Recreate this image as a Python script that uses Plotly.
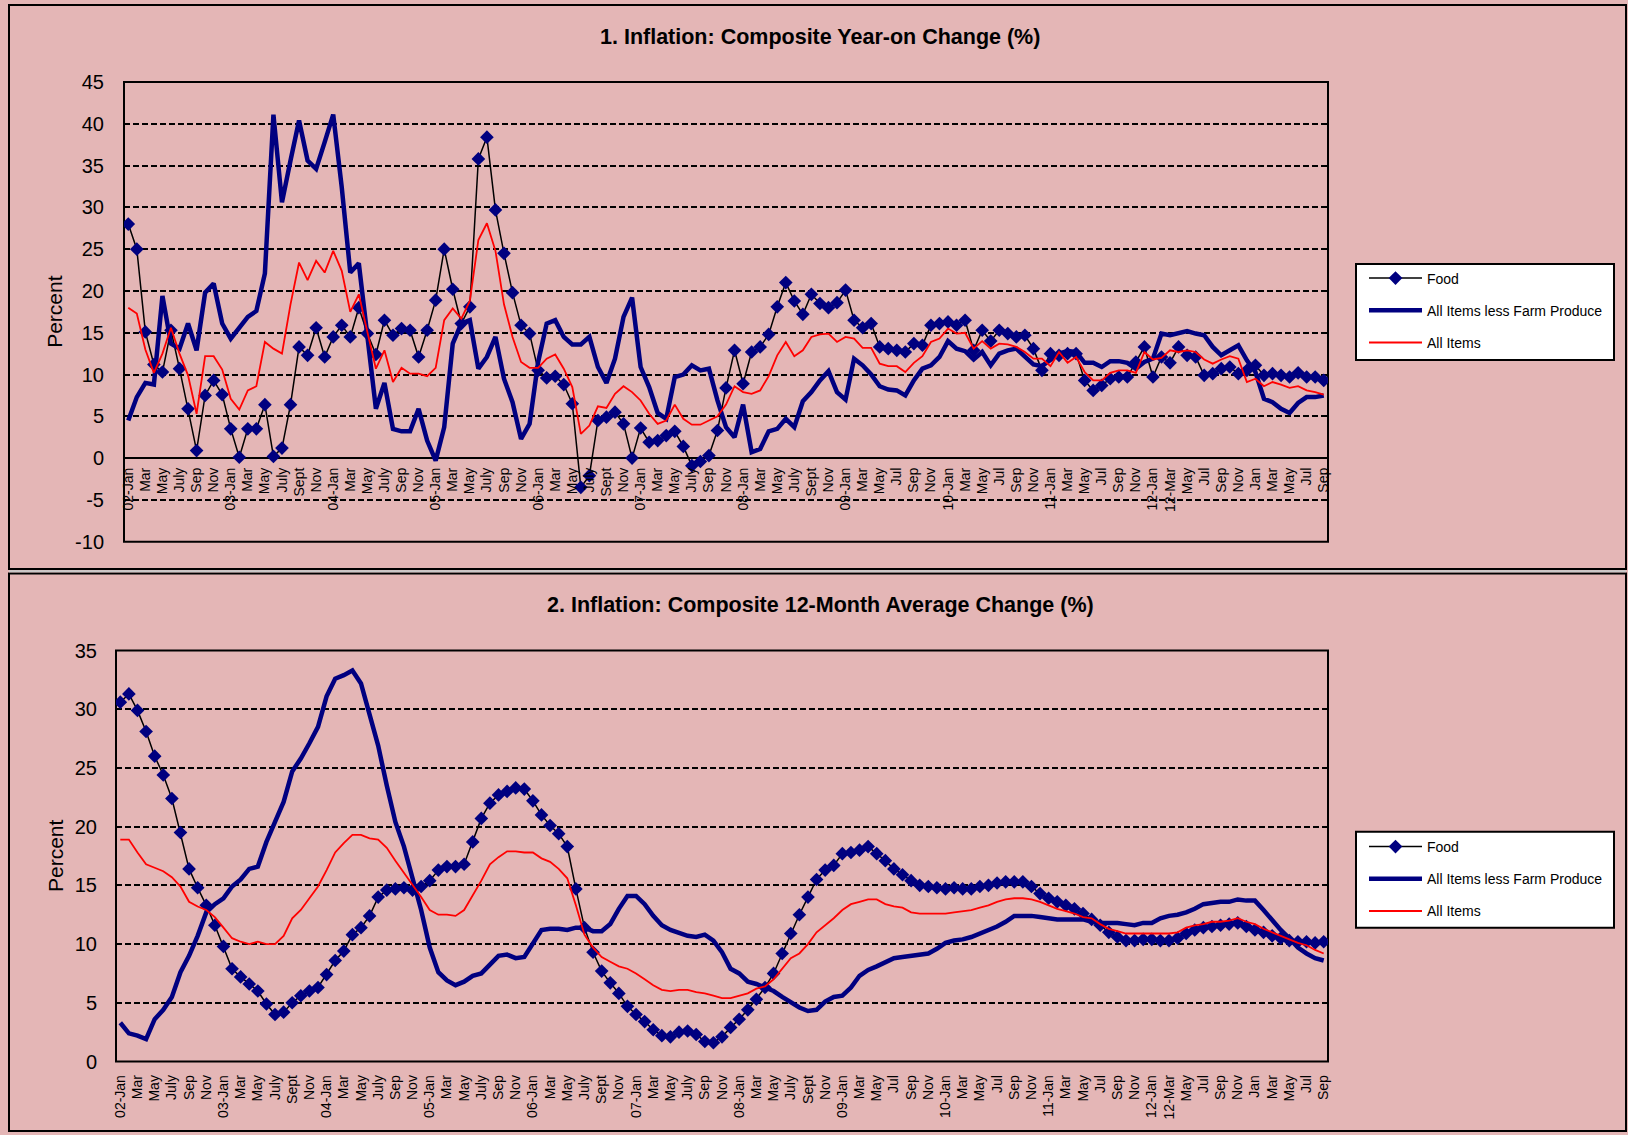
import plotly.graph_objects as go

# ---------------- data ----------------
month_labels = [
    "02-Jan", "Mar", "May", "July", "Sep", "Nov",
    "03-Jan", "Mar", "May", "July", "Sept", "Nov",
    "04-Jan", "Mar", "May", "July", "Sep", "Nov",
    "05-Jan", "Mar", "May", "July", "Sep", "Nov",
    "06-Jan", "Mar", "May", "July", "Sept", "Nov",
    "07-Jan", "Mar", "May", "July", "Sep", "Nov",
    "08-Jan", "Mar", "May", "July", "Sept", "Nov",
    "09-Jan", "Mar", "May", "Jul", "Sep", "Nov",
    "10-Jan", "Mar", "May", "Jul", "Sep", "Nov",
    "11-Jan", "Mar", "May", "Jul", "Sep", "Nov",
    "12-Jan", "12-Mar", "May", "Jul", "Sep", "Nov",
    "Jan", "Mar", "May", "Jul", "Sep",
]

# Chart 1: year-on change (%), monthly Jan 2002 - Sep 2013
yoy_food = [
    28.0, 25.0, 15.1, 11.2, 10.3, 15.3, 10.7, 5.9, 0.9, 7.5, 9.3, 7.6,
    3.5, 0.1, 3.5, 3.5, 6.4, 0.2, 1.2, 6.4, 13.3, 12.3, 15.6, 12.1,
    14.5, 15.9, 14.5, 18.0, 14.9, 12.4, 16.5, 14.7, 15.5, 15.3, 12.1, 15.3,
    18.9, 25.0, 20.2, 16.1, 18.1, 35.8, 38.4, 29.7, 24.5, 19.8, 15.9, 14.9,
    10.5, 9.6, 9.8, 8.8, 6.5, -3.5, -2.1, 4.5, 4.9, 5.5, 4.1, 0.0,
    3.6, 1.9, 2.1, 2.7, 3.2, 1.4, -0.9, -0.4, 0.3, 3.3, 8.4, 12.9,
    8.9, 12.7, 13.3, 14.8, 18.1, 21.0, 18.8, 17.2, 19.6, 18.5, 18.0, 18.6,
    20.1, 16.5, 15.6, 16.1, 13.3, 13.1, 12.9, 12.7, 13.7, 13.5, 15.9, 16.1,
    16.3, 15.9, 16.5, 12.9, 15.3, 14.0, 15.3, 14.9, 14.5, 14.7, 13.1, 10.5,
    12.5, 12.3, 12.5, 12.5, 9.3, 8.1, 8.7, 9.5, 9.7, 9.7, 11.5, 13.3,
    9.7, 12.1, 11.4, 13.3, 12.3, 12.1, 9.9, 10.1, 10.7, 10.9, 10.1, 10.5,
    11.1, 9.9, 10.1, 9.9, 9.7, 10.2, 9.7, 9.7, 9.3,
]
yoy_core = [
    4.5, 7.3, 9.0, 8.8, 19.4, 13.7, 13.1, 16.1, 12.9, 19.8, 20.9, 16.1,
    14.3, 15.5, 16.9, 17.6, 22.1, 41.1, 30.6, 35.6, 40.4, 35.6, 34.6, 37.8,
    41.1, 32.4, 22.2, 23.3, 14.5, 5.9, 9.0, 3.5, 3.2, 3.2, 5.9, 2.1,
    -0.3, 3.7, 13.7, 16.1, 16.5, 10.7, 12.1, 14.5, 9.5, 6.7, 2.3, 4.1,
    11.5, 16.1, 16.5, 14.5, 13.6, 13.6, 14.5, 10.9, 9.0, 11.9, 16.9, 19.2,
    10.9, 8.5, 5.4, 4.7, 9.7, 10.0, 11.1, 10.5, 10.7, 6.9, 3.7, 2.5,
    6.4, 0.7, 1.1, 3.2, 3.5, 4.7, 3.7, 6.8, 7.9, 9.3, 10.4, 7.9,
    7.0, 11.9, 11.1, 10.0, 8.6, 8.2, 8.1, 7.5, 9.3, 10.7, 11.1, 12.1,
    14.0, 13.1, 12.8, 11.8, 12.7, 11.1, 12.5, 12.9, 13.1, 12.1, 11.2, 11.0,
    11.8, 12.5, 12.8, 12.7, 11.4, 11.4, 10.9, 11.6, 11.6, 11.4, 10.7, 11.5,
    11.9, 14.9, 14.7, 15.0, 15.2, 14.9, 14.7, 13.3, 12.3, 12.9, 13.5, 11.7,
    10.3, 7.1, 6.7, 5.9, 5.4, 6.6, 7.3, 7.3, 7.5,
]
yoy_all = [
    18.0, 17.3, 13.0, 10.2, 12.5, 15.6, 12.5, 9.9, 5.3, 12.2, 12.2, 10.6,
    7.1, 5.8, 8.1, 8.6, 13.9, 13.1, 12.5, 18.4, 23.4, 21.3, 23.6, 22.2,
    24.8, 22.4, 17.5, 19.6, 15.1, 10.7, 12.9, 9.1, 10.8, 10.1, 10.1, 9.8,
    10.8, 16.5, 17.9, 16.7, 18.8, 26.1, 28.1, 24.8, 18.4, 14.5, 11.5, 10.8,
    10.8, 11.9, 12.4, 10.7, 8.5, 2.9, 3.9, 6.2, 6.0, 7.7, 8.6, 7.9,
    6.9, 5.3, 4.1, 4.5, 6.4, 4.7, 4.0, 4.0, 4.5, 5.0, 6.4, 8.6,
    7.9, 7.7, 8.1, 9.8, 12.3, 13.9, 12.2, 12.9, 14.5, 14.8, 14.9, 13.9,
    14.5, 14.3, 13.2, 13.2, 11.3, 11.0, 11.0, 10.3, 11.4, 12.2, 13.9, 14.3,
    15.5, 14.9, 15.0, 13.1, 14.0, 13.1, 13.7, 13.6, 13.3, 12.7, 11.9, 11.9,
    11.0, 12.7, 11.4, 12.1, 10.3, 9.3, 9.3, 10.2, 10.5, 10.5, 10.2, 12.7,
    11.8, 12.0, 12.9, 12.7, 12.9, 12.7, 11.8, 11.3, 11.8, 12.2, 11.9, 9.1,
    9.5, 8.6, 9.1, 8.8, 8.4, 8.6, 8.1, 7.9, 7.6,
]

# Chart 2: 12-month average change (%)
avg_food = [
    30.6, 31.3, 29.9, 28.1, 26.0, 24.4, 22.4, 19.5, 16.4, 14.8, 13.3, 11.6,
    9.8, 7.9, 7.2, 6.6, 6.0, 4.9, 4.0, 4.2, 5.0, 5.6, 6.0, 6.3,
    7.4, 8.6, 9.4, 10.8, 11.4, 12.4, 14.0, 14.6, 14.7, 14.8, 14.6, 14.9,
    15.4, 16.3, 16.6, 16.6, 16.8, 18.7, 20.7, 22.0, 22.7, 23.0, 23.3, 23.2,
    22.2, 21.0, 20.1, 19.4, 18.3, 14.7, 11.4, 9.3, 7.7, 6.7, 5.8, 4.7,
    4.0, 3.4, 2.7, 2.2, 2.1, 2.5, 2.6, 2.3, 1.7, 1.6, 2.1, 2.9,
    3.6, 4.4, 5.3, 6.3, 7.5, 9.2, 10.9, 12.5, 14.0, 15.5, 16.3, 16.7,
    17.7, 17.8, 18.0, 18.3, 17.7, 17.1, 16.4, 15.9, 15.4, 15.0, 14.9, 14.8,
    14.7, 14.8, 14.7, 14.7, 14.9, 15.0, 15.2, 15.3, 15.3, 15.3, 14.9, 14.3,
    13.9, 13.6, 13.3, 13.0, 12.6, 12.1, 11.6, 11.0, 10.6, 10.3, 10.3, 10.4,
    10.4, 10.3, 10.3, 10.5, 10.9, 11.2, 11.4, 11.5, 11.6, 11.7, 11.8, 11.5,
    11.2, 11.0, 10.7, 10.5, 10.3, 10.2, 10.2, 10.1, 10.2,
]
avg_core = [
    3.3, 2.4, 2.2, 1.9, 3.6, 4.4, 5.5, 7.6, 9.0, 10.7, 12.7, 13.4,
    13.9, 14.9, 15.5, 16.4, 16.6, 18.7, 20.4, 22.1, 24.7, 25.8, 27.1, 28.5,
    31.1, 32.6, 32.9, 33.3, 32.2, 29.5, 26.9, 23.5, 20.4, 18.3, 15.7, 12.9,
    9.7, 7.6, 6.9, 6.5, 6.8, 7.3, 7.5, 8.3, 9.0, 9.1, 8.8, 8.9,
    10.0, 11.2, 11.3, 11.3, 11.2, 11.4, 11.4, 11.1, 11.1, 11.7, 13.0, 14.1,
    14.1, 13.4, 12.4, 11.6, 11.2, 10.9, 10.7, 10.6, 10.8, 10.3, 9.3, 7.9,
    7.5, 6.8, 6.6, 6.3, 6.0, 5.5, 5.0, 4.6, 4.3, 4.4, 5.1, 5.5,
    5.6, 6.3, 7.3, 7.8, 8.1, 8.5, 8.8, 8.9, 9.0, 9.1, 9.2, 9.6,
    10.1, 10.3, 10.4, 10.6, 10.9, 11.1, 11.5, 11.9, 12.4, 12.4, 12.4, 12.3,
    12.2, 12.1, 12.1, 12.1, 12.1, 11.9, 11.8, 11.8, 11.8, 11.7, 11.6, 11.8,
    11.8, 12.2, 12.4, 12.5, 12.7, 13.0, 13.4, 13.5, 13.6, 13.6, 13.8, 13.7,
    13.7, 12.9, 12.0, 11.2, 10.5, 9.7, 9.2, 8.8, 8.6,
]
avg_all = [
    18.9, 18.9, 17.8, 16.8, 16.5, 16.2, 15.7, 14.9, 13.6, 13.2, 12.9, 12.3,
    11.4, 10.5, 10.2, 10.0, 10.2, 10.0, 10.0, 10.7, 12.2, 12.9, 13.9, 14.9,
    16.3, 17.8, 18.6, 19.3, 19.3, 19.0, 18.9, 18.2, 17.1, 16.1, 15.1, 14.0,
    12.9, 12.5, 12.5, 12.4, 12.9, 14.1, 15.4, 16.8, 17.4, 17.9, 17.9, 17.8,
    17.8, 17.3, 17.0, 16.4, 15.6, 13.3, 10.8, 9.7, 8.9, 8.5, 8.1, 7.9,
    7.5, 7.0, 6.5, 6.1, 6.0, 6.1, 6.1, 5.9, 5.8, 5.6, 5.4, 5.4,
    5.6, 5.8, 6.2, 6.4, 7.0, 7.9, 8.8, 9.2, 10.0, 11.0, 11.6, 12.2,
    12.9, 13.4, 13.6, 13.8, 13.8, 13.4, 13.2, 13.1, 12.7, 12.6, 12.6, 12.6,
    12.6, 12.7, 12.8, 12.9, 13.1, 13.3, 13.6, 13.8, 13.9, 13.9, 13.8, 13.6,
    13.3, 13.0, 12.8, 12.6, 12.3, 12.2, 11.7, 11.3, 11.1, 10.9, 10.9, 10.9,
    10.9, 10.9, 10.9, 11.0, 11.4, 11.6, 11.7, 11.9, 11.9, 12.0, 12.2, 11.9,
    11.7, 11.3, 11.0, 10.7, 10.4, 10.1, 9.9, 9.5, 9.2,
]

series_names = ["Food", "All Items less Farm Produce", "All Items"]
yoy_ticks = [-10, -5, 0, 5, 10, 15, 20, 25, 30, 35, 40, 45]
avg_ticks = [0, 5, 10, 15, 20, 25, 30, 35]

# ---------------- layout helpers ----------------
W, H = 1628, 1135
FONT = "Liberation Sans, Arial, sans-serif"
BG = "#E4B6B6"
NAVY = "#000080"


def px(x):
    return x / W


def py(y):
    return 1 - y / H


idx = list(range(len(yoy_food)))
tick_idx = list(range(0, len(yoy_food), 2))

fig = go.Figure()


def add_series(food, core, allitems, xa, ya, legend):
    fig.add_trace(go.Scatter(
        x=idx, y=food, name=series_names[0], mode="lines+markers",
        line=dict(color="black", width=1.5),
        marker=dict(symbol="diamond", size=10.5, color=NAVY, line=dict(width=0)),
        xaxis=xa, yaxis=ya, legend=legend, legendgroup=legend + "a"))
    fig.add_trace(go.Scatter(
        x=idx, y=core, name=series_names[1], mode="lines",
        line=dict(color=NAVY, width=4.5),
        xaxis=xa, yaxis=ya, legend=legend, legendgroup=legend + "b"))
    fig.add_trace(go.Scatter(
        x=idx, y=allitems, name=series_names[2], mode="lines",
        line=dict(color="#FF0000", width=1.8),
        xaxis=xa, yaxis=ya, legend=legend, legendgroup=legend + "c"))


add_series(yoy_food, yoy_core, yoy_all, "x", "y", "legend")
add_series(avg_food, avg_core, avg_all, "x2", "y2", "legend2")

# plot geometry (pixels)
T_L, T_R, T_T, T_B = 124, 1328, 82, 541.7
B_L, B_R, B_T, B_B = 116, 1328, 650.5, 1061.5
top_dom = [py(T_B), py(T_T)]
zero_pos = top_dom[0] + (10 / 55) * (top_dom[1] - top_dom[0])

grid_common = dict(showgrid=True, gridcolor="black", gridwidth=2,
                   griddash="6px,3px", tickmode="array",
                   tickfont=dict(family=FONT, size=20, color="black"),
                   ticks="outside", tickcolor="rgba(0,0,0,0)",
                   showline=False, fixedrange=True, automargin=False)
x_common = dict(range=[-0.5, len(idx) - 0.5], tickmode="array",
                tickvals=tick_idx, ticktext=month_labels, tickangle=-90,
                tickfont=dict(family=FONT, size=14, color="black"),
                showgrid=False, zeroline=False, showline=False,
                ticks="outside", tickcolor="rgba(0,0,0,0)",
                fixedrange=True, automargin=False)

legend_common = dict(xanchor="left", yanchor="top",
                     bgcolor="rgba(0,0,0,0)", borderwidth=0,
                     font=dict(family=FONT, size=14, color="black"),
                     tracegroupgap=11, itemwidth=53, traceorder="grouped")

fig.update_layout(
    width=W, height=H,
    margin=dict(l=0, r=0, t=0, b=0, autoexpand=False),
    paper_bgcolor=BG, plot_bgcolor="rgba(0,0,0,0)",
    font=dict(family=FONT, color="black"),
    xaxis=dict(domain=[px(T_L), px(T_R)], anchor="free", position=zero_pos,
               ticklen=3, **x_common),
    yaxis=dict(domain=top_dom, range=[-10, 45], anchor="x",
               tickvals=yoy_ticks, ticktext=[str(v) for v in yoy_ticks],
               zeroline=True, zerolinecolor="black", zerolinewidth=2,
               ticklen=15, **grid_common),
    xaxis2=dict(domain=[px(B_L), px(B_R)], anchor="y2", ticklen=7,
                **x_common),
    yaxis2=dict(domain=[py(B_B), py(B_T)], range=[0, 35], anchor="x2",
                tickvals=avg_ticks, ticktext=[str(v) for v in avg_ticks],
                zeroline=False, ticklen=14, **grid_common),
    legend=dict(x=px(1364), y=py(262.5), **legend_common),
    legend2=dict(x=px(1364), y=py(831), **legend_common),
    showlegend=True,
)

shapes = []
# outer chart-area frames
shapes.append(dict(type="rect", xref="paper", yref="paper",
                   x0=px(9), x1=px(1626), y0=py(569), y1=py(5),
                   line=dict(color="black", width=2), layer="below"))
shapes.append(dict(type="rect", xref="paper", yref="paper",
                   x0=px(9), x1=px(1626), y0=py(1131), y1=py(573.5),
                   line=dict(color="black", width=2), layer="below"))
shapes.append(dict(type="line", xref="paper", yref="paper",
                   x0=px(9), x1=px(1626), y0=py(571.3), y1=py(571.3),
                   line=dict(color="#C8C8C8", width=2), layer="below"))
# plot-area frames
shapes.append(dict(type="rect", xref="paper", yref="paper",
                   x0=px(T_L), x1=px(T_R), y0=py(T_B), y1=py(T_T),
                   line=dict(color="black", width=2), layer="below"))
shapes.append(dict(type="rect", xref="paper", yref="paper",
                   x0=px(B_L), x1=px(B_R), y0=py(B_B), y1=py(B_T),
                   line=dict(color="black", width=2), layer="below"))
# legend boxes
for y0, y1 in [(264, 360), (831.7, 927.7)]:
    shapes.append(dict(type="rect", xref="paper", yref="paper",
                       x0=px(1356), x1=px(1614), y0=py(y1), y1=py(y0),
                       fillcolor="white", line=dict(color="black", width=2),
                       layer="below"))
fig.update_layout(shapes=shapes)

annotations = [
    dict(text="<b>1. Inflation: Composite Year-on Change (%)</b>",
         x=px(820), y=py(37), xref="paper", yref="paper", showarrow=False,
         xanchor="center", yanchor="middle",
         font=dict(family=FONT, size=21.5, color="black")),
    dict(text="<b>2. Inflation: Composite 12-Month Average Change (%)</b>",
         x=px(820), y=py(605), xref="paper", yref="paper", showarrow=False,
         xanchor="center", yanchor="middle",
         font=dict(family=FONT, size=21.5, color="black")),
    dict(text="Percent", x=px(55), y=py((T_T + T_B) / 2), xref="paper",
         yref="paper", showarrow=False, textangle=-90,
         xanchor="center", yanchor="middle",
         font=dict(family=FONT, size=21, color="black")),
    dict(text="Percent", x=px(55), y=py((B_T + B_B) / 2), xref="paper",
         yref="paper", showarrow=False, textangle=-90,
         xanchor="center", yanchor="middle",
         font=dict(family=FONT, size=21, color="black")),
]
fig.update_layout(annotations=annotations)

fig.write_html(
    "out.html",
    config={"displayModeBar": False},
    post_script="document.body.style.margin='0px';document.body.style.overflow='hidden';",
)
